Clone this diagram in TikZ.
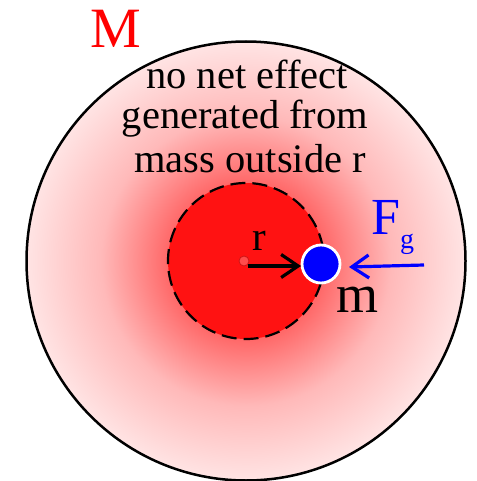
\documentclass[tikz,border=0pt]{standalone}
\usepackage{fontspec}
\setmainfont{Liberation Serif}
\usetikzlibrary{arrows.meta}
\definecolor{cA}{RGB}{255,60,60}
\definecolor{cB}{RGB}{255,105,105}
\definecolor{cC}{RGB}{255,185,185}
\definecolor{cD}{RGB}{255,228,228}
\definecolor{innerred}{RGB}{255,18,18}
\definecolor{dotfill}{RGB}{255,75,75}
\definecolor{dotedge}{RGB}{205,20,20}
\pgfdeclareradialshading{outerglow}{\pgfpoint{0bp}{0bp}}{color(0bp)=(cA); color(9bp)=(cB); color(16.5bp)=(cC); color(25bp)=(cD); color(50bp)=(cD)}
\tikzset{
  lbl/.style={inner sep=0pt, anchor=base},
  bodytext/.style={lbl, font=\fontsize{40.5}{42}\selectfont},
  arr/.style={-{Straight Barb[length=17pt,width=23pt]}, line width=3.2pt},
}
\begin{document}
\begin{tikzpicture}[x=1pt,y=-1pt]
\useasboundingbox (0,0) rectangle (476,481);
\coordinate (O) at (246,261);
% outer sphere
\shade[shading=outerglow] (O) circle (219.5);
\draw[line width=2.5pt] (O) circle (219.5);
% inner sphere
\fill[innerred] (O) circle (78);
\draw[line width=2.2pt, dash pattern=on 15pt off 7pt] (O) circle (78);
% center dot
\node[circle, fill=dotfill, draw=dotedge, line width=0.8pt, minimum size=10pt, inner sep=0pt] (c) at (244,261) {};
% small mass
\node[circle, fill=blue, draw=white, line width=2.8pt, minimum size=38pt, inner sep=0pt] (m) at (321,264) {};
% r arrow
\coordinate (rs) at (248,266);
\coordinate (re) at (301,266);
\draw[arr, black] (rs) -- (re);
% force arrow
\coordinate (ft) at (424,265);
\coordinate (fh) at (349,267);
\draw[arr, blue] (ft) -- (fh);
% labels
\node[lbl, red, font=\fontsize{57}{57}\selectfont] (Mlab) at (116,48) {M};
\node[bodytext] (t1) at (247,89) {no net effect};
\node[bodytext] (t2) at (245,129) {generated from};
\node[bodytext] (t3) at (250,172) {mass outside r};
\node[lbl, font=\fontsize{41}{41}\selectfont] (rlab) at (259,250) {r};
\node[lbl, anchor=base west, blue, font=\fontsize{52}{52}\selectfont] (Flab) at (371,234) {F\raisebox{-14pt}{\fontsize{28}{28}\selectfont g}};
\node[lbl, font=\fontsize{54}{54}\selectfont] (mlab) at (357.5,312) {m};
\end{tikzpicture}
\end{document}
